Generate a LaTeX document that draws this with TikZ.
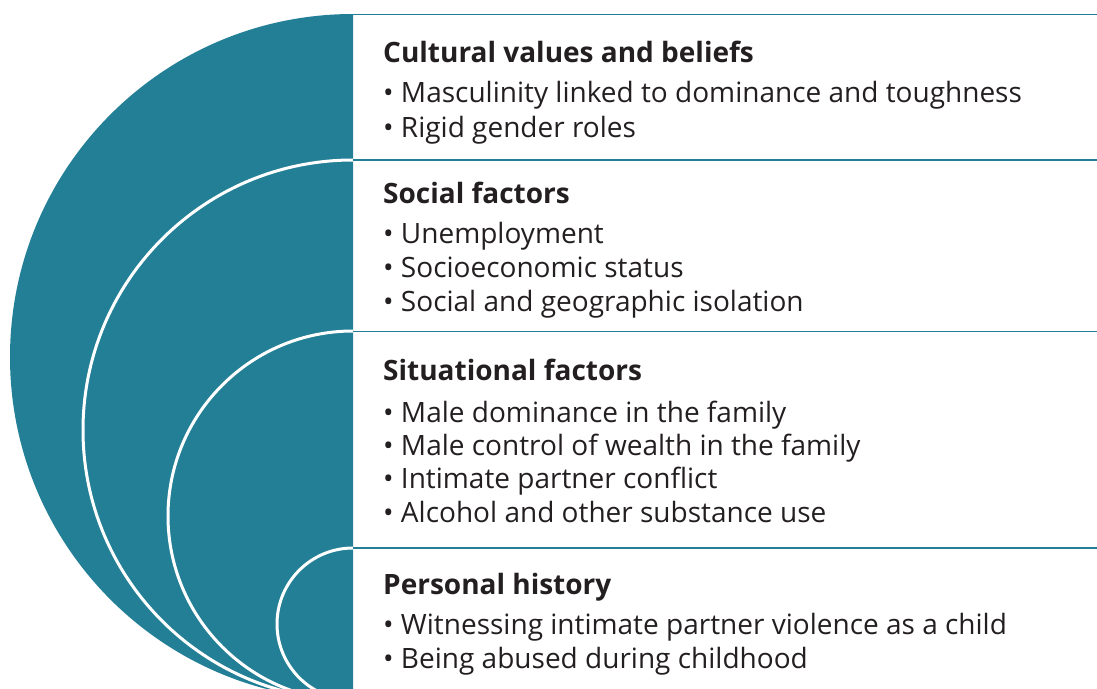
\documentclass[tikz,border=0pt]{standalone}
\usepackage{fontspec}
\setmainfont{Open Sans}
\definecolor{teal1}{HTML}{237F96}
\definecolor{ink}{HTML}{231F20}
\begin{document}
\begin{tikzpicture}[x=1pt,y=-1pt,
  title/.style={anchor=base west, font=\fontsize{28}{33}\selectfont\bfseries, text=ink, inner sep=0pt},
  item/.style={anchor=base west, font=\fontsize{28}{33}\selectfont, text=ink, inner sep=0pt},
  sepline/.style={draw=teal1, line width=1.5pt},
  ring/.style={draw=white, line width=3pt}]
\useasboundingbox (0,0) rectangle (1097,688);
\begin{scope}
  \clip (0,0) rectangle (353,688);
  \fill[teal1] (353,357) circle (343pt);
  \draw[ring] (353,430) circle (270pt);
  \draw[ring] (353,516) circle (185pt);
  \draw[ring] (353,624) circle (76pt);
\end{scope}
% separators
\coordinate (s1a) at (353,14.5); \coordinate (s1b) at (1097,14.5);
\coordinate (s2a) at (353,160);  \coordinate (s2b) at (1097,160);
\coordinate (s3a) at (353,331.5);\coordinate (s3b) at (1097,331.5);
\coordinate (s4a) at (353,548);  \coordinate (s4b) at (1097,548);
\draw[sepline] (s1a) -- (s1b);
\draw[sepline] (s2a) -- (s2b);
\draw[sepline] (s3a) -- (s3b);
\draw[sepline] (s4a) -- (s4b);
% texts
\node[title] (t1) at (383,62) {Cultural values and beliefs};
\node[item] (b11) at (383,102) {• Masculinity linked to dominance and toughness};
\node[item] (b12) at (383,137) {• Rigid gender roles};
\node[title] (t2) at (383,203) {Social factors};
\node[item] (b21) at (383,243.5) {• Unemployment};
\node[item] (b22) at (383,277.5) {• Socioeconomic status};
\node[item] (b23) at (383,311.5) {• Social and geographic isolation};
\node[title] (t3) at (383,380.5) {Situational factors};
\node[item] (b31) at (383,422) {• Male dominance in the family};
\node[item] (b32) at (383,455) {• Male control of wealth in the family};
\node[item] (b33) at (383,488.5) {• Intimate partner conflict};
\node[item] (b34) at (383,522) {• Alcohol and other substance use};
\node[title] (t4) at (383,594.5) {Personal history};
\node[item] (b41) at (383,634) {• Witnessing intimate partner violence as a child};
\node[item] (b42) at (383,668) {• Being abused during childhood};
\end{tikzpicture}
\end{document}
